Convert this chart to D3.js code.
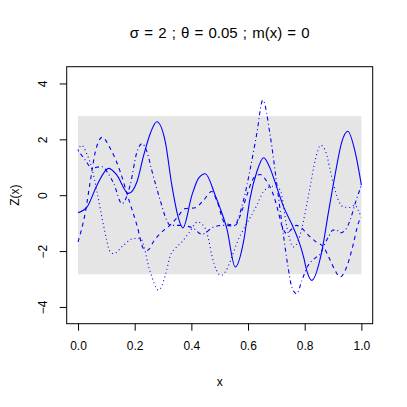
<!DOCTYPE html>
<html>
<head>
<meta charset="utf-8">
<script src="https://cdn.jsdelivr.net/npm/d3@7"></script>
<style>
  body { margin: 0; background: #fff; }
  svg { display: block; font-family: "Liberation Sans", Arial, sans-serif; }
</style>
</head>
<body>
<svg id="chart" width="407" height="407"></svg>
<script>
// ---- data ----
const titleText = "σ = 2 ; θ = 0.05 ; m(x) = 0";
const xTicks = [0, 0.2, 0.4, 0.6, 0.8, 1.0];
const yTicks = [-4, -2, 0, 2, 4];
const bandLimits = [-2.83, 2.83];

const seriesSolid = [
  [0,-0.63],[0.032,-0.42],[0.067,0.36],[0.108,0.96],[0.137,0.72],[0.178,0.06],[0.208,0.48],
  [0.231,1.4],[0.255,2.21],[0.278,2.63],[0.308,1.91],[0.331,0.36],[0.355,-0.84],[0.37,-1.17],
  [0.402,0.0],[0.425,0.6],[0.449,0.77],[0.484,0.0],[0.502,-0.48],[0.525,-1.19],[0.555,-2.57],
  [0.584,-1.67],[0.607,-0.12],[0.631,0.84],[0.655,1.34],[0.678,0.96],[0.696,0.45],[0.725,-0.4],
  [0.755,-1.05],[0.778,-1.61],[0.796,-2.21],[0.807,-2.69],[0.825,-3.05],[0.86,-2.03],[0.884,-0.6],
  [0.907,0.72],[0.931,1.91],[0.952,2.29],[0.978,1.55],[1.0,0.36]
];
const seriesDashed = [
  [0,-1.67],[0.026,-0.6],[0.043,0.48],[0.061,1.55],[0.085,2.07],[0.114,1.67],[0.149,0.84],
  [0.178,-0.12],[0.208,-1.08],[0.231,-1.91],[0.245,-1.97],[0.27,-1.6],[0.29,-1.37],[0.325,-1.07],
  [0.35,-0.8],[0.378,-0.48],[0.414,-0.45],[0.443,-0.18],[0.472,0.13],[0.49,-0.2],[0.519,-1.01],
  [0.555,-1.07],[0.573,-0.72],[0.596,0.0],[0.619,0.6],[0.643,0.74],[0.667,0.48],[0.69,0.0],
  [0.707,-0.6],[0.719,-1.08],[0.737,-1.37],[0.755,-1.2],[0.77,-1.08],[0.785,-1.14],[0.81,-1.4],
  [0.84,-1.67],[0.866,-1.85],[0.89,-2.33],[0.907,-2.69],[0.925,-2.93],[0.948,-2.57],[0.972,-1.73],
  [0.989,-1.01],[1.0,-0.78]
];
const seriesDotted = [
  [0,1.6],[0.012,1.79],[0.03,1.5],[0.049,0.96],[0.067,0.12],[0.09,-1.08],[0.114,-2.03],[0.126,-2.09],
  [0.161,-1.79],[0.196,-1.55],[0.22,-1.55],[0.255,-2.75],[0.284,-3.4],[0.308,-2.87],[0.326,-2.15],
  [0.343,-1.91],[0.367,-1.67],[0.39,-1.37],[0.422,-0.96],[0.449,-1.19],[0.46,-1.55],[0.472,-2.15],
  [0.505,-2.87],[0.573,-1.43],[0.631,-0.36],[0.654,0.12],[0.685,0.32],[0.713,0.2],[0.737,-1.14],
  [0.76,-1.85],[0.778,-1.61],[0.796,-0.9],[0.819,0.3],[0.837,1.25],[0.857,1.79],[0.872,1.61],
  [0.901,0.42],[0.919,-0.18],[0.937,-0.42],[0.96,-0.44],[0.978,-0.36],[0.989,-0.54],[1.0,-0.8]
];
const seriesDotDash = [
  [0,1.6],[0.026,1.25],[0.049,0.96],[0.065,1.0],[0.085,1.02],[0.105,0.8],[0.126,0.42],[0.155,-0.3],
  [0.184,0.36],[0.208,1.55],[0.226,1.85],[0.245,1.5],[0.26,0.9],[0.29,-0.18],[0.313,-0.9],
  [0.325,-1.08],[0.361,-1.08],[0.408,-1.19],[0.437,-1.4],[0.478,-1.14],[0.513,-1.08],[0.549,-1.1],
  [0.584,-0.18],[0.607,0.9],[0.631,2.21],[0.652,3.4],[0.678,2.15],[0.702,0.36],[0.725,-1.43],
  [0.74,-2.5],[0.755,-3.3],[0.772,-3.53],[0.79,-3.05],[0.813,-2.5],[0.837,-2.25],[0.855,-2.1],
  [0.866,-1.85],[0.884,-1.49],[0.9,-1.25],[0.913,-1.25],[0.925,-1.35],[0.943,-1.25],[0.96,-0.9],
  [0.978,-0.3],[1.0,0.36]
];

const seriesList = [
  { data: seriesSolid, dash: null },
  { data: seriesDashed, dash: "4,4" },
  { data: seriesDotted, dash: "1,3" },
  { data: seriesDotDash, dash: "1,3,4,3" }
];

// ---- layout ----
const svg = d3.select("#chart");
const box = { left: 66.7, right: 372.7, top: 66.7, bottom: 323.7 };
const x = d3.scaleLinear().domain([-0.04, 1.04]).range([box.left, box.right]);
const y = d3.scaleLinear().domain([-4.6, 4.6]).range([box.bottom, box.top]);

// gray band
svg.append("rect")
  .attr("x", x(0)).attr("y", y(bandLimits[1]))
  .attr("width", x(1) - x(0)).attr("height", y(bandLimits[0]) - y(bandLimits[1]))
  .attr("fill", "#e5e5e5");

// lines
const line = d3.line().x(d => x(d[0])).y(d => y(d[1])).curve(d3.curveMonotoneX);
seriesList.forEach(s => {
  svg.append("path")
    .attr("d", line(s.data))
    .attr("fill", "none")
    .attr("stroke", "#0000ff")
    .attr("stroke-width", 1.1)
    .attr("stroke-dasharray", s.dash);
});

// box
svg.append("rect")
  .attr("x", box.left).attr("y", box.top)
  .attr("width", box.right - box.left).attr("height", box.bottom - box.top)
  .attr("fill", "none").attr("stroke", "#000").attr("stroke-width", 1);

// x axis
const xAxis = d3.axisBottom(x).tickValues(xTicks).tickFormat(d3.format(".1f"))
  .tickSize(7).tickPadding(11).tickSizeOuter(0);
const gx = svg.append("g").attr("transform", `translate(0,${box.bottom})`).call(xAxis);
gx.select(".domain").remove();
gx.selectAll("text").attr("font-size", 12).attr("fill", "#000")
  .attr("font-family", "'Liberation Sans', Arial, sans-serif");
gx.selectAll("line").attr("stroke", "#000");

// y axis
const yAxis = d3.axisLeft(y).tickValues(yTicks)
  .tickFormat(d => d < 0 ? "\u2212" + Math.abs(d) : String(d))
  .tickSize(7).tickSizeOuter(0);
const gy = svg.append("g").attr("transform", `translate(${box.left},0)`).call(yAxis);
gy.select(".domain").remove();
gy.selectAll("line").attr("stroke", "#000");
gy.selectAll("text")
  .attr("font-size", 12).attr("fill", "#000")
  .attr("font-family", "'Liberation Sans', Arial, sans-serif")
  .attr("x", null).attr("dy", null)
  .attr("text-anchor", "middle")
  .attr("transform", "translate(-20,0) rotate(-90)");

// title and axis labels
svg.append("text").attr("x", (box.left + box.right) / 2).attr("y", 38)
  .attr("text-anchor", "middle").attr("font-size", 15).attr("word-spacing", 1).text(titleText);
svg.append("text").attr("x", (box.left + box.right) / 2).attr("y", 386)
  .attr("text-anchor", "middle").attr("font-size", 12).text("x");
svg.append("text").attr("transform", `translate(19,${(box.top + box.bottom) / 2}) rotate(-90)`)
  .attr("text-anchor", "middle").attr("font-size", 12).text("Z(x)");
</script>
</body>
</html>
